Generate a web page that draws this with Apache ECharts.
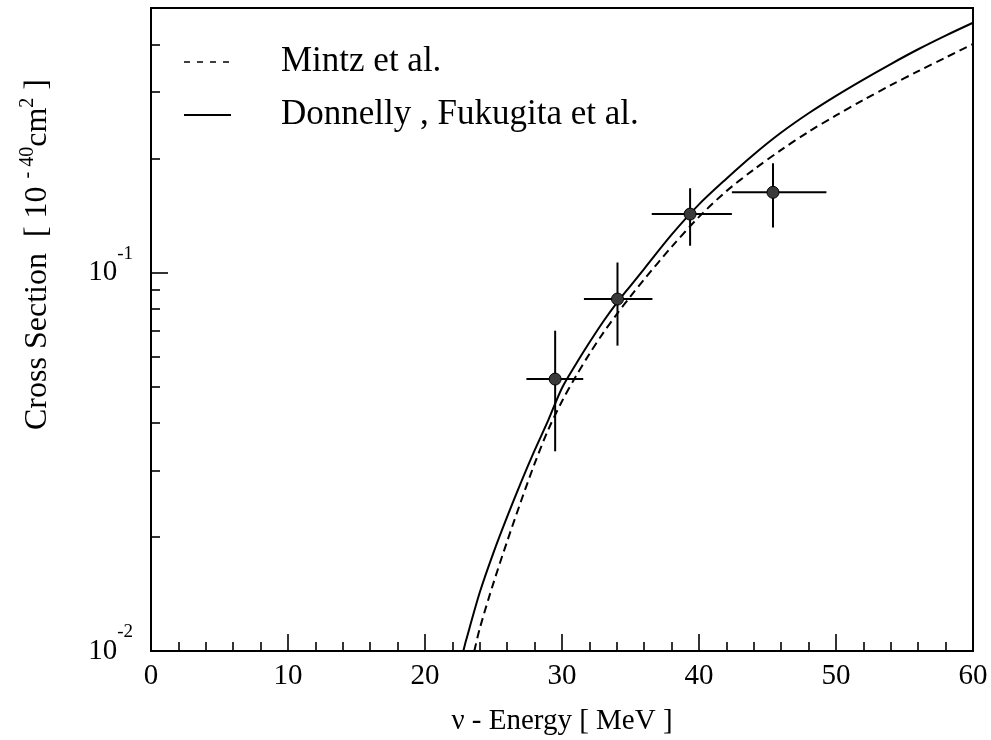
<!DOCTYPE html>
<html>
<head>
<meta charset="utf-8">
<script src="https://cdn.jsdelivr.net/npm/echarts@6/dist/echarts.min.js"></script>
<style>
  html, body { margin: 0; padding: 0; background: #fff; }
  #chart { width: 991px; height: 740px; }
</style>
</head>
<body>
<div id="chart"></div>
<script>
// Calculated cross sections (10^-40 cm^2) versus neutrino energy (MeV)
const energyDonnelly = [22.8, 23, 24, 25, 26, 27, 28, 29, 30, 31, 32, 33, 34, 35, 36, 38, 40, 42, 44, 46, 48, 50, 52, 54, 56, 58, 60];
const sigmaDonnelly = [0.0100, 0.01067, 0.01429, 0.01820, 0.02265, 0.02786, 0.03388, 0.04074, 0.04955, 0.05715, 0.06531, 0.07413, 0.08318, 0.09226, 0.1023, 0.1259, 0.1514, 0.1770, 0.2051, 0.2344, 0.2636, 0.2931, 0.3236, 0.3556, 0.3890, 0.4227, 0.4571];

const energyMintz = [23.6, 24, 25, 26, 27, 28, 29, 30, 31, 32, 33, 34, 35, 36, 38, 40, 42, 44, 46, 48, 50, 52, 54, 56, 58, 60];
const sigmaMintz = [0.0100, 0.01148, 0.01514, 0.01950, 0.02483, 0.03126, 0.03846, 0.04571, 0.05309, 0.06095, 0.06918, 0.07762, 0.08650, 0.09594, 0.1169, 0.1403, 0.1641, 0.1871, 0.2109, 0.2355, 0.2600, 0.2858, 0.3126, 0.3404, 0.3698, 0.4018];

// Measured points with energy bins and error ranges
const pointEnergy = [29.5, 34.05, 39.35, 45.4];
const pointEnergyLow = [27.4, 31.6, 36.55, 42.4];
const pointEnergyHigh = [31.55, 36.6, 42.4, 49.3];
const pointSigma = [0.0523, 0.0851, 0.1427, 0.1629];
const pointSigmaLow = [0.0337, 0.0641, 0.1177, 0.1315];
const pointSigmaHigh = [0.0702, 0.1063, 0.1670, 0.1944];

// Axis ranges and tick values
const energyMin = 0, energyMax = 60, energyStep = 10;
const sigmaMin = 0.01, sigmaMax = 0.5;
const sigmaMajorTicks = [0.01, 0.1];
const sigmaMinorTicks = [0.02, 0.03, 0.04, 0.05, 0.06, 0.07, 0.08, 0.09, 0.2, 0.3, 0.4];

const legendMintz = 'Mintz et al.';
const legendDonnelly = 'Donnelly , Fukugita et al.';

const serif = "'Liberation Serif', 'DejaVu Serif', serif";

const zip = (xs, ys) => xs.map((x, i) => [x, ys[i]]);

const chart = echarts.init(document.getElementById('chart'), null, { renderer: 'canvas' });

const option = {
  animation: false,
  backgroundColor: '#fff',
  grid: {
    left: 151, right: 18, top: 8, bottom: 89,
    containLabel: false,
    outerBoundsMode: 'none',
    show: true, borderColor: '#000', borderWidth: 2, backgroundColor: 'transparent'
  },
  legend: {
    orient: 'vertical',
    left: 183, top: 44,
    padding: 0,
    itemWidth: 47, itemHeight: 14, itemGap: 17,
    itemStyle: { opacity: 0 },
    data: [
      { name: legendMintz, lineStyle: { type: [6, 7], width: 1.6 } },
      { name: legendDonnelly, lineStyle: { width: 2 } }
    ],
    textStyle: { fontFamily: serif, fontSize: 35, lineHeight: 36, color: '#000', padding: [0, 0, 0, 45] }
  },
  xAxis: {
    type: 'value',
    min: energyMin, max: energyMax, interval: energyStep,
    name: 'ν - Energy [ MeV ]',
    nameLocation: 'middle', nameGap: 56,
    nameTextStyle: { fontFamily: serif, fontSize: 29, color: '#000' },
    axisLine: { show: true, lineStyle: { color: '#000', width: 2 } },
    axisTick: { show: true, inside: true, length: 17, lineStyle: { color: '#000', width: 1.6 } },
    minorTick: { show: true, splitNumber: 5, length: 9, lineStyle: { color: '#000', width: 1.6 } },
    splitLine: { show: false },
    axisLabel: { fontFamily: serif, fontSize: 29, color: '#000', margin: 11 }
  },
  yAxis: [
    {
      type: 'log', logBase: 10,
      min: sigmaMin, max: sigmaMax,
      name: 'Cross Section  [ 10 {sup|- 40}cm{sup|2} ]',
      nameLocation: 'middle', nameGap: 93, nameRotate: 90,
      nameTextStyle: {
        fontFamily: serif, fontSize: 32, color: '#000', lineHeight: 40,
        padding: [0, 0, 0, 150],
        rich: {
          sup: { fontFamily: serif, fontSize: 20, lineHeight: 20, verticalAlign: 'top', color: '#000' }
        }
      },
      axisLine: { show: true, lineStyle: { color: '#000', width: 2 } },
      axisTick: { show: true, inside: true, length: 17, customValues: sigmaMajorTicks, lineStyle: { color: '#000', width: 1.6 } },
      splitLine: { show: false },
      axisLabel: {
        customValues: sigmaMajorTicks,
        margin: 18,
        formatter: v => '{b|10}{s|' + Math.round(Math.log10(v)) + '}',
        rich: {
          b: { fontFamily: serif, fontSize: 29, lineHeight: 56, color: '#000' },
          s: { fontFamily: serif, fontSize: 19, lineHeight: 19, verticalAlign: 'top', color: '#000' }
        }
      }
    },
    {
      type: 'log', logBase: 10,
      min: sigmaMin, max: sigmaMax,
      position: 'left', offset: 0,
      axisLine: { show: false },
      axisTick: { show: true, inside: true, length: 9, customValues: sigmaMinorTicks, lineStyle: { color: '#000', width: 1.6 } },
      axisLabel: { show: false },
      splitLine: { show: false }
    }
  ],
  series: [
    {
      name: legendMintz,
      type: 'line',
      data: zip(energyMintz, sigmaMintz),
      smooth: 0.3,
      symbol: 'none',
      lineStyle: { color: '#000', width: 2, type: [8, 5] },
      itemStyle: { color: '#000' },
      z: 3
    },
    {
      name: legendDonnelly,
      type: 'line',
      data: zip(energyDonnelly, sigmaDonnelly),
      smooth: 0.3,
      symbol: 'none',
      lineStyle: { color: '#000', width: 2 },
      itemStyle: { color: '#000' },
      z: 3
    },
    {
      name: 'errors',
      type: 'custom',
      data: pointEnergy.map((e, i) => [e, pointSigma[i], pointEnergyLow[i], pointEnergyHigh[i], pointSigmaLow[i], pointSigmaHigh[i]]),
      encode: { x: [0, 2, 3], y: [1, 4, 5] },
      renderItem: (params, api) => {
        const c = api.coord([api.value(0), api.value(1)]);
        const xl = api.coord([api.value(2), api.value(1)]);
        const xh = api.coord([api.value(3), api.value(1)]);
        const yl = api.coord([api.value(0), api.value(4)]);
        const yh = api.coord([api.value(0), api.value(5)]);
        const st = { stroke: '#000', lineWidth: 2 };
        return {
          type: 'group',
          children: [
            { type: 'line', shape: { x1: xl[0], y1: c[1], x2: xh[0], y2: c[1] }, style: st },
            { type: 'line', shape: { x1: c[0], y1: yl[1], x2: c[0], y2: yh[1] }, style: st }
          ]
        };
      },
      z: 4
    },
    {
      name: 'points',
      type: 'scatter',
      data: zip(pointEnergy, pointSigma),
      symbol: 'circle',
      symbolSize: 12,
      itemStyle: { color: '#3a3a3a', borderColor: '#000', borderWidth: 1, opacity: 1 },
      z: 5
    }
  ]
};

chart.setOption(option);
</script>
</body>
</html>
